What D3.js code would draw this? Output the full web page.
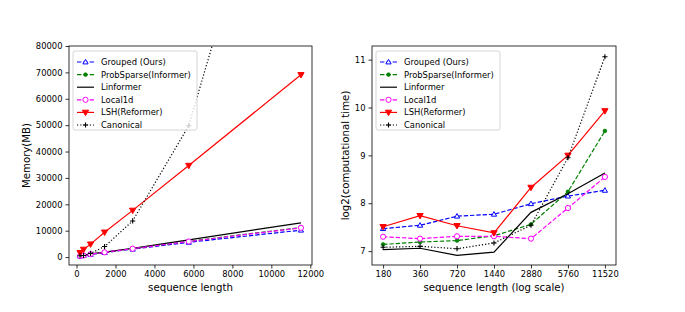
<!DOCTYPE html>
<html>
<head>
<meta charset="utf-8">
<script src="https://cdn.jsdelivr.net/npm/d3@7"></script>
<style>
  body { margin: 0; background: #fff; }
  text { font-family: "DejaVu Sans", sans-serif; }
</style>
</head>
<body>
<svg id="main" width="685" height="312"></svg>
<script>
// sequence lengths
var lengths = [180, 360, 720, 1440, 2880, 5760, 11520];
var lengthLabels = ["180", "360", "720", "1440", "2880", "5760", "11520"];
var seriesNames = ["Grouped (Ours)", "ProbSparse(Informer)", "Linformer", "Local1d", "LSH(Reformer)", "Canonical"];

// memory (MB), left panel
var memGrouped    = [400, 600, 1000, 1700, 3000, 5600, 10200];
var memProbSparse = [400, 600, 1100, 1800, 3200, 6000, 11200];
var memLinformer  = [500, 700, 1200, 1900, 3300, 6500, 13000];
var memLocal1d    = [400, 600, 1100, 1800, 3200, 5900, 11100];
var memLSH        = [1650, 2900, 4900, 9400, 17700, 34700, 69100];
var memCanonical  = [500, 600, 1400, 4000, 13700, 49800, 195000];

// log2(computational time), right panel
var timeGrouped    = [7.47, 7.54, 7.73, 7.77, 7.99, 8.15, 8.27];
var timeProbSparse = [7.14, 7.19, 7.22, 7.32, 7.56, 8.24, 9.51];
var timeLinformer  = [7.03, 7.06, 6.91, 6.98, 7.81, 8.20, 8.63];
var timeLocal1d    = [7.30, 7.26, 7.31, 7.31, 7.26, 7.90, 8.55];
var timeLSH        = [7.51, 7.74, 7.53, 7.38, 8.33, 9.00, 9.93];
var timeCanonical  = [7.08, 7.10, 7.05, 7.17, 7.54, 8.95, 11.06];

var memTicks = [0, 10000, 20000, 30000, 40000, 50000, 60000, 70000, 80000];
var lenTicks = [0, 2000, 4000, 6000, 8000, 10000, 12000];
var timeTicks = [7, 8, 9, 10, 11];

var styles = [
  { color: "#0000ff", dash: "4.4,1.9", marker: "tri" },
  { color: "#008000", dash: "4.4,1.9", marker: "dot" },
  { color: "#000000", dash: null, marker: null },
  { color: "#ff00ff", dash: "4.4,1.9", marker: "circle" },
  { color: "#ff0000", dash: null, marker: "tridown" },
  { color: "#000000", dash: "1.2,2", marker: "plus" }
];

var svg = d3.select("#main");

function drawMarker(g, type, st, x, y) {
  if (type == "tri") {
    g.append("path").attr("d", d3.symbol().type(d3.symbolTriangle).size(12)())
      .attr("transform", "translate(" + x + "," + (y + 0.4) + ")")
      .attr("fill", "#fff").attr("stroke", st.color).attr("stroke-width", 1);
  } else if (type == "tridown") {
    g.append("path").attr("d", d3.symbol().type(d3.symbolTriangle).size(17)())
      .attr("transform", "translate(" + x + "," + (y - 0.4) + ") rotate(180)")
      .attr("fill", st.color).attr("stroke", st.color).attr("stroke-width", 1);
  } else if (type == "dot") {
    g.append("circle").attr("cx", x).attr("cy", y).attr("r", 1.9)
      .attr("fill", st.color).attr("stroke", st.color).attr("stroke-width", 0.6);
  } else if (type == "circle") {
    g.append("circle").attr("cx", x).attr("cy", y).attr("r", 2.6)
      .attr("fill", "#fff").attr("stroke", st.color).attr("stroke-width", 1);
  } else if (type == "plus") {
    g.append("path").attr("d", "M" + (x - 2.6) + "," + y + "H" + (x + 2.6) + "M" + x + "," + (y - 2.6) + "V" + (y + 2.6))
      .attr("stroke", st.color).attr("stroke-width", 1.1);
  }
}

function drawPanel(opt) {
  var x = opt.x, y = opt.y;
  var g = svg.append("g");
  var clipId = "clip" + opt.id;
  svg.append("clipPath").attr("id", clipId).append("rect")
    .attr("x", opt.left).attr("y", opt.top)
    .attr("width", opt.right - opt.left).attr("height", opt.bottom - opt.top);

  // axes
  var xAxis = g.append("g").attr("transform", "translate(0," + opt.bottom + ")")
    .call(opt.xAxis);
  var yAxis = g.append("g").attr("transform", "translate(" + opt.left + ",0)")
    .call(opt.yAxis);
  [xAxis, yAxis].forEach(function(a) {
    a.select(".domain").remove();
    a.selectAll("line").attr("stroke", "#000").attr("stroke-width", 0.8);
    a.selectAll("text").attr("font-size", "8.4px").attr("fill", "#000")
      .style("font-family", "DejaVu Sans");
  });

  var plot = g.append("g").attr("clip-path", "url(#" + clipId + ")");
  opt.series.forEach(function(vals, i) {
    var st = styles[i];
    var pts = vals.map(function(v, j) { return [x(opt.xs[j]), y(v)]; });
    var line = plot.append("path").attr("d", d3.line()(pts))
      .attr("fill", "none").attr("stroke", st.color).attr("stroke-width", 1.2);
    if (st.dash) line.attr("stroke-dasharray", st.dash);
    if (st.marker) pts.forEach(function(p) { drawMarker(plot, st.marker, st, p[0], p[1]); });
  });

  // frame
  g.append("rect").attr("x", opt.left).attr("y", opt.top)
    .attr("width", opt.right - opt.left).attr("height", opt.bottom - opt.top)
    .attr("fill", "none").attr("stroke", "#000").attr("stroke-width", 0.8);

  // labels
  g.append("text").attr("x", (opt.left + opt.right) / 2).attr("y", 291)
    .attr("text-anchor", "middle").attr("font-size", "10.2px").text(opt.xLabel);
  g.append("text").attr("transform", "translate(" + opt.yLabelX + "," + ((opt.top + opt.bottom) / 2) + ") rotate(-90)")
    .attr("text-anchor", "middle").attr("font-size", "10.2px").text(opt.yLabel);

  // legend
  var lg = g.append("g").attr("transform", "translate(" + (opt.left + 4) + "," + (opt.top + 5) + ")");
  lg.append("rect").attr("x", 0).attr("y", 0).attr("width", 124).attr("height", 79).attr("rx", 2)
    .attr("fill", "#fff").attr("fill-opacity", 0.8).attr("stroke", "#ccc").attr("stroke-width", 0.8);
  seriesNames.forEach(function(name, i) {
    var st = styles[i];
    var yy = 11 + i * 12.6;
    var l = lg.append("line").attr("x1", 4).attr("x2", 21).attr("y1", yy).attr("y2", yy)
      .attr("stroke", st.color).attr("stroke-width", 1.2);
    if (st.dash) l.attr("stroke-dasharray", st.dash);
    if (st.marker) drawMarker(lg, st.marker, st, 12.5, yy);
    lg.append("text").attr("x", 28).attr("y", yy + 3).attr("font-size", "8.4px").text(name);
  });
}

// left panel: memory
var xMem = d3.scaleLinear().domain([-387, 12087]).range([69, 312]);
var yMem = d3.scaleLinear().domain([-3000, 80000]).range([265, 46]);
drawPanel({
  id: "mem", left: 69, right: 312, top: 46, bottom: 265,
  x: xMem, y: yMem, xs: lengths,
  xAxis: d3.axisBottom(xMem).tickValues(lenTicks).tickSize(3.5).tickPadding(3).tickFormat(d3.format("d")),
  yAxis: d3.axisLeft(yMem).tickValues(memTicks).tickSize(3.5).tickPadding(3).tickFormat(d3.format("d")),
  series: [memGrouped, memProbSparse, memLinformer, memLocal1d, memLSH, memCanonical],
  xLabel: "sequence length", yLabel: "Memory(MB)", yLabelX: 30
});

// right panel: log2 time, categorical log-scale x
var idx = lengths.map(function(d, i) { return i; });
var xTime = d3.scaleLinear().domain([-0.3, 6.3]).range([372, 616]);
var yTime = d3.scaleLinear().domain([6.71, 11.285]).range([265, 46]);
drawPanel({
  id: "time", left: 372, right: 616, top: 46, bottom: 265,
  x: xTime, y: yTime, xs: idx,
  xAxis: d3.axisBottom(xTime).tickValues(idx).tickSize(3.5).tickPadding(3).tickFormat(function(d) { return lengthLabels[d]; }),
  yAxis: d3.axisLeft(yTime).tickValues(timeTicks).tickSize(3.5).tickPadding(3).tickFormat(d3.format("d")),
  series: [timeGrouped, timeProbSparse, timeLinformer, timeLocal1d, timeLSH, timeCanonical],
  xLabel: "sequence length (log scale)", yLabel: "log2(computational time)", yLabelX: 349
});
</script>
</body>
</html>
